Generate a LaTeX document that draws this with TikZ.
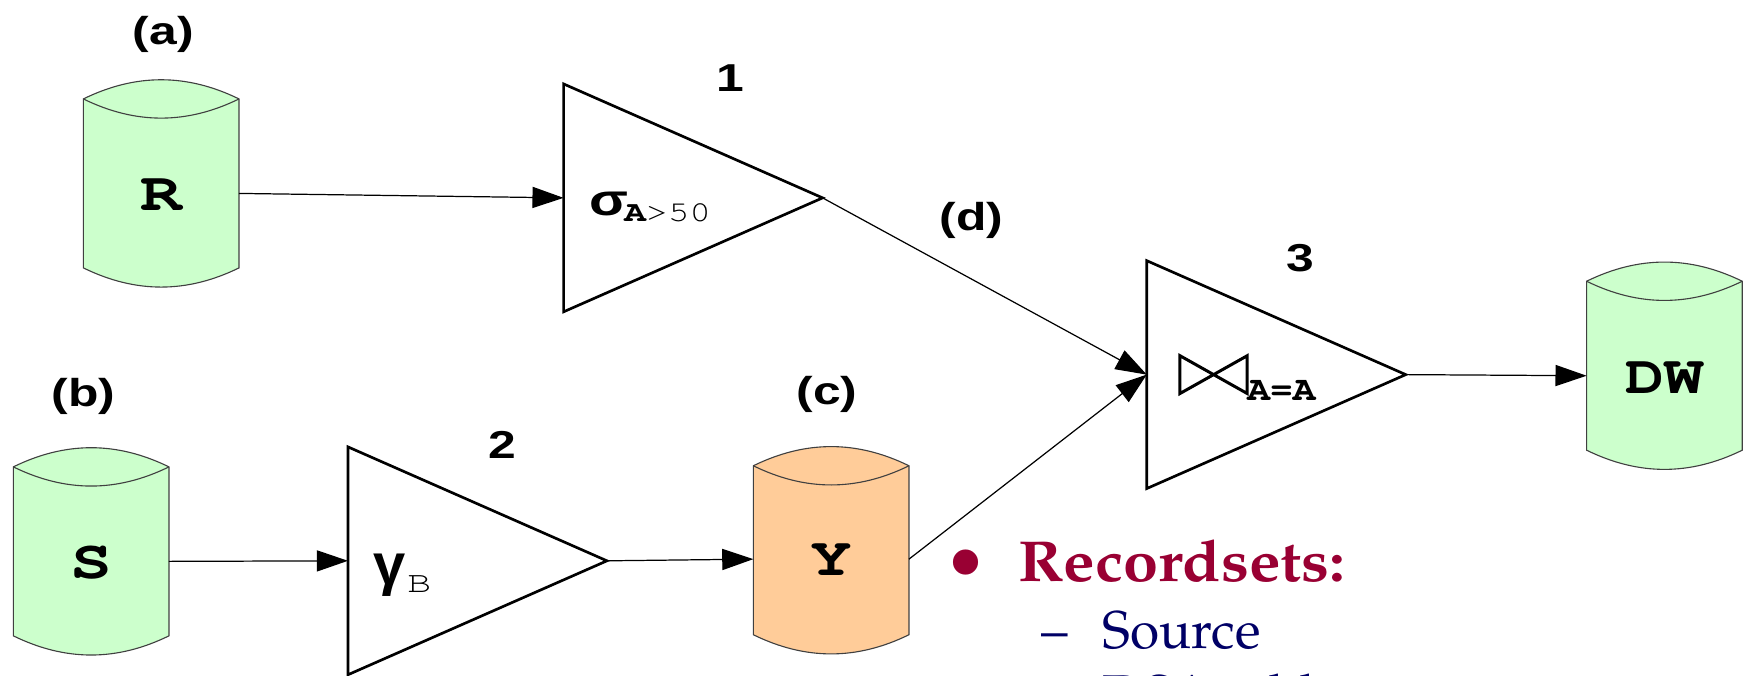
\documentclass[tikz,border=0pt]{standalone}
\usepackage[T1,TU]{fontenc}
\usepackage{graphicx}
\usepackage{fontspec}
\usetikzlibrary{arrows.meta,shapes.geometric}
\newfontfamily\dlab{Liberation Sans}[FakeStretch=1.28]
\newfontfamily\dlabn{Liberation Sans}
\newfontfamily\dser{Liberation Serif}
\newcommand\palfont{\fontencoding{T1}\fontfamily{ppl}\selectfont}
% Courier-like text: #1 size, #2 horizontal stretch, #3 text
\newcommand\cour[3]{\scalebox{#2}[1]{\fontencoding{T1}\fontfamily{pcr}\fontsize{#1}{#1}\selectfont #3}}
\definecolor{cylgreen}{HTML}{CCFFCC}
\definecolor{cylorange}{HTML}{FFCC99}
\definecolor{cylline}{HTML}{404040}
\definecolor{recred}{HTML}{990033}
\definecolor{srcblue}{HTML}{000066}
\newcommand\cylshape[2]{%
  \draw[cylstroke, fill=#2] (#1.north west) .. controls +(47,-23) and +(-47,-23) .. (#1.north east)
    -- (#1.south east) .. controls +(-47,23) and +(47,23) .. (#1.south west) -- cycle;
  \draw[cylstroke] (#1.north west) .. controls +(47,23) and +(-47,23) .. (#1.north east);
}
\begin{document}
\begin{tikzpicture}[x=1pt,y=-1pt,
  cylbody/.style={rectangle, minimum width=140pt, minimum height=152pt, inner sep=0pt, outer sep=0pt},
  cylstroke/.style={draw=cylline, line width=1pt},
  cyltext/.style={inner sep=0pt},
  optri/.style={isosceles triangle, isosceles triangle stretches, minimum width=205pt, minimum height=233pt,
    inner sep=0pt, outer sep=0pt, draw, line width=2.4pt, line join=miter, anchor=lower side},
  lab/.style={inner sep=0pt, font=\dlab\bfseries\fontsize{35}{38}\selectfont},
  conn/.style={draw, line width=1.1pt, -{Triangle[length=28pt,width=19pt]}},
  optext/.style={inner sep=0pt, anchor=base west}
]
\clip (0,0) rectangle (1568,608);
% cylinders
\node[cylbody] (R) at (145,165) {};
\node[cylbody] (S) at (82,496) {};
\node[cylbody] (Y) at (747.7,495) {};
\node[cylbody] (DW) at (1497.3,329) {};
\cylshape{R}{cylgreen}
\cylshape{S}{cylgreen}
\cylshape{Y}{cylorange}
\cylshape{DW}{cylgreen}
\node[cyltext] (Rt) at ([yshift=-11pt]R.center) {\cour{49}{1.28}{\bfseries R}};
\node[cyltext] (St) at ([yshift=-10pt]S.center) {\cour{49}{1.28}{\bfseries S}};
\node[cyltext] (Yt) at ([yshift=-9pt]Y.center) {\cour{49}{1.28}{\bfseries Y}};
\node[cyltext] (DWt) at ([yshift=-11pt]DW.center) {\cour{49}{1.2}{\bfseries DW}};
% operators
\node[optri] (T1) at (507,178) {};
\node[optri] (T2) at (313,504.5) {};
\node[optri] (T3) at (1031.6,337) {};
\node[optext] (sig) at (530,193.5) {\dlab\bfseries\fontsize{40}{42}\selectfont σ};
\node[optext] (sigsub) at (561.5,199.4) {\cour{26}{1.25}{{\bfseries A}>50}};
\node[optext] (gam) at (336,526) {\dlabn\bfseries\fontsize{52}{56}\selectfont γ};
\node[optext] (gamsub) at (366,533) {\cour{27}{1.35}{B}};
\draw[line width=2.7pt, line join=miter] (1061.5,320) -- (1122,354) -- (1122,320) -- (1061.5,354) -- cycle;
\node[optext] (joinsub) at (1122,360) {\cour{31}{1.1}{\bfseries A=A}};
% labels
\node[lab] (la) at (147,31) {(a)};
\node[lab] (lb) at (75,357) {(b)};
\node[lab] (lc) at (744,355) {(c)};
\node[lab] (ld) at (874,198) {(d)};
\node[lab] (l1) at (656.7,70.4) {1};
\node[lab] (l2) at (452,400) {2};
\node[lab] (l3) at (1170,232) {3};
% connectors
\draw[conn] ([yshift=-9pt]R.east) -- (T1.lower side);
\draw[conn] ([yshift=-9pt]S.east) -- (T2.lower side);
\draw[conn] (T2.apex) -- ([yshift=-8pt]Y.west);
\draw[conn] (T1.apex) -- (T3.lower side);
\draw[conn] ([yshift=-8pt]Y.east) -- (T3.lower side);
\draw[conn] (T3.apex) -- ([yshift=-9pt]DW.west);
% text
\node[anchor=center, inner sep=0pt, text=recred] (bul) at (869,516) {\dser\fontsize{95}{95}\selectfont •};
\node[anchor=base west, inner sep=0pt, text=recred] (rec) at (916,523) {\scalebox{1.09}[1]{\palfont\bfseries\fontsize{52}{56}\selectfont Recordsets:}};
\node[anchor=base west, inner sep=0pt, text=srcblue] (d1) at (937,583) {\palfont\fontsize{47.8}{52}\selectfont\textendash};
\node[anchor=base west, inner sep=0pt, text=srcblue] (src) at (992,583) {\palfont\fontsize{47.8}{52}\selectfont Source};
\node[anchor=base west, inner sep=0pt, text=srcblue] (d2) at (937,641) {\palfont\fontsize{47.8}{52}\selectfont\textendash};
\node[anchor=base west, inner sep=0pt, text=srcblue] (dsa) at (992,641) {\palfont\fontsize{47.8}{52}\selectfont DSA tables};
\end{tikzpicture}
\end{document}
